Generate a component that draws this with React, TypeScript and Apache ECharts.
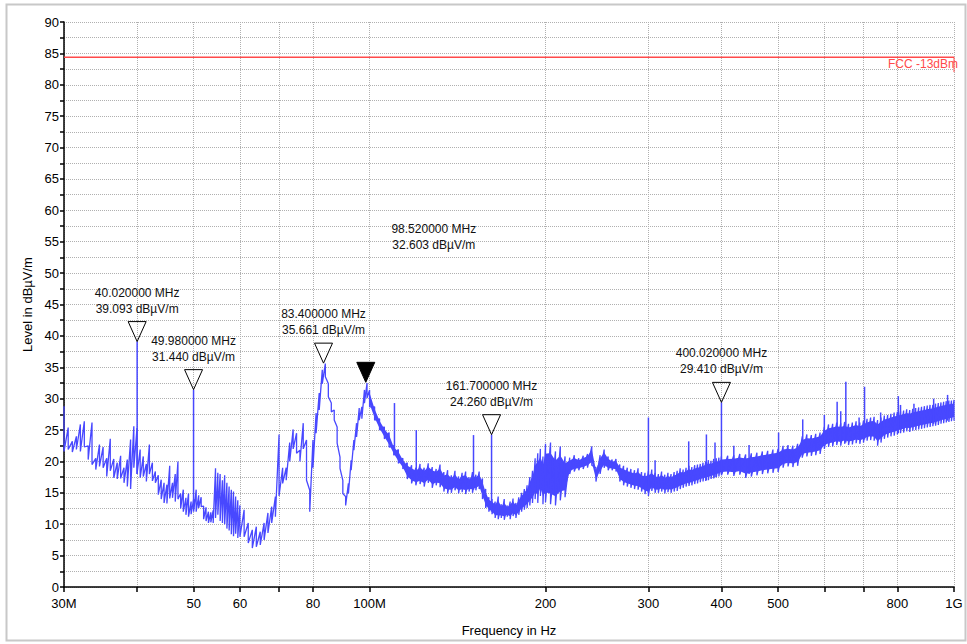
import { useEffect, useRef } from "react";
import * as echarts from "echarts";

// ---------- axis definitions ----------
const xTickMHz = [30, 40, 50, 60, 70, 80, 100, 200, 300, 400, 500, 600, 700, 800, 1000];
const xLabelMHz = [30, 50, 60, 80, 100, 200, 300, 400, 500, 800, 1000];
const xLabelText = ["30M", "50", "60", "80", "100M", "200", "300", "400", "500", "800", "1G"];
const yMin = 0;
const yMax = 90;
const yStep = 2.5;
const yLabelStep = 5;

// ---------- limit line ----------
const fccLimit = 84.4;
const fccLabel = "FCC -13dBm";

// ---------- markers [MHz, dBµV/m] ----------
const markers: [number, number][] = [
  [40.02, 39.093],
  [49.98, 31.44],
  [83.4, 35.661],
  [98.52, 32.603],
  [161.7, 24.26],
  [400.02, 29.41],
];
const activeMarkerMHz = 98.52;

// ---------- narrow spikes [MHz, peak, base] ----------
const spikes: [number, number, number][] = [
  [40.02, 39.093, 18.0], [49.98, 31.44, 12.5], [110.3, 29.3, 21.0], [120.2, 25.0, 16.5],
  [150.6, 24.2, 15.5], [161.7, 24.26, 12.0], [300, 27.0, 15.0], [308, 20.2, 15.5],
  [351.6, 23.2, 16.5], [377, 24.3, 17.0], [390, 23.0, 17.5], [400.02, 29.41, 18.0],
  [420, 22.5, 18.0], [446, 22.6, 18.0], [501, 24.6, 19.0], [551, 26.7, 21.0],
  [600, 27.4, 22.5], [631, 29.5, 23.0], [640, 28.0, 23.0], [653, 32.7, 23.0],
  [688, 27.0, 23.5], [703, 31.9, 23.5], [749, 27.8, 24.0], [803, 30.4, 24.5],
  [810, 29.0, 25.0], [854, 29.2, 25.5], [923, 30.0, 26.0], [975, 30.6, 26.5],
];

// ---------- measured trace: [MHz, upper, lower] read from the sweep ----------
const trace30to60: [number, number, number][] = [
  [30, 28.8, 21.6], [30.5, 25.4, 21.9], [31, 23.2, 21.5], [31.5, 24.0, 21.9], [32, 25.9, 21.6],
  [32.5, 26.4, 22.3], [33, 22.5, 20.3], [33.5, 26.2, 19.5], [34, 20.5, 18.7], [34.5, 22.7, 19.2],
  [35, 22.3, 19.0], [35.5, 20.5, 17.6], [36, 23.6, 18.5], [36.5, 20.4, 17.4], [37, 19.8, 17.2],
  [37.5, 20.9, 17.3], [38, 19.0, 16.6], [38.5, 20.3, 16.0], [39, 23.5, 15.6], [39.5, 25.6, 19.0],
  [40, 25.3, 18.0], [40.5, 21.9, 17.4], [41, 20.8, 17.6], [41.5, 19.6, 16.8], [42, 22.7, 18.0],
  [42.5, 19.8, 16.9], [43, 18.4, 16.6], [43.5, 17.8, 14.7], [44, 17.1, 14.0], [44.5, 16.6, 13.4],
  [45, 16.3, 13.3], [45.5, 19.3, 14.1], [46, 16.6, 14.2], [46.5, 18.0, 13.6], [47, 20.0, 14.0],
  [47.5, 14.9, 12.5], [48, 15.5, 12.0], [48.5, 14.2, 11.5], [49, 14.9, 11.2], [49.5, 13.6, 11.6],
  [50, 14.0, 12.0], [50.5, 15.5, 12.0], [51, 14.6, 12.6], [51.5, 14.3, 12.8], [52, 12.9, 10.8],
  [52.5, 12.7, 10.5], [53, 12.0, 10.2], [53.5, 11.9, 10.3], [54, 12.2, 10.2], [54.5, 18.9, 11.0],
  [55, 18.2, 11.5], [55.5, 18.0, 10.5], [56, 17.0, 10.2], [56.5, 17.8, 10.0], [57, 16.6, 9.3],
  [57.5, 16.0, 9.0], [58, 15.5, 8.4], [58.5, 15.2, 8.1], [59, 14.4, 8.5], [59.5, 13.8, 7.8],
];

const trace60to100: [number, number, number][] = [
  [60, 13.0, 8.0], [61, 12.3, 8.0], [62, 10.2, 7.0], [63, 9.1, 6.2], [64, 9.6, 6.4],
  [65, 8.8, 6.7], [66, 10.2, 7.5], [67, 11.8, 8.6], [68, 12.8, 10.2], [69, 14.4, 11.2],
  [70, 24.3, 14.5], [71, 19.0, 16.5], [72, 19.0, 17.0], [73, 23.0, 20.0], [74, 25.1, 22.0],
  [75, 24.5, 21.3], [76, 21.8, 20.0], [77, 26.1, 22.0], [78, 23.4, 17.0], [79, 15.4, 12.0],
  [80, 23.4, 19.0], [81, 27.7, 24.5], [82, 30.9, 28.2], [83, 34.6, 32.4], [84, 35.6, 33.5],
  [85, 32.4, 30.3], [86, 29.3, 27.9], [87, 28.2, 26.6], [88, 25.5, 22.9], [89, 20.7, 18.9],
  [90, 17.0, 14.9], [91, 14.4, 13.0], [92, 16.5, 14.9], [93, 20.2, 18.6], [94, 23.4, 21.8],
  [95, 26.1, 23.9], [96, 28.5, 26.6], [97, 28.7, 26.8], [98, 31.4, 29.3], [99, 32.5, 30.1],
];

const trace100to200: [number, number, number][] = [
  [100, 31.4, 28.7], [102, 28.7, 26.6], [104, 26.8, 25.0], [106, 25.5, 23.6], [108, 24.6, 22.3],
  [110, 22.5, 21.0], [112, 21.9, 19.7], [114, 20.5, 18.8], [116, 19.8, 17.2], [118, 19.4, 16.5],
  [120, 19.0, 16.2], [122, 19.6, 16.4], [124, 19.0, 16.0], [126, 19.7, 16.6], [128, 19.1, 15.8],
  [130, 18.8, 16.2], [132, 19.5, 15.9], [134, 18.3, 15.2], [136, 18.6, 14.9], [138, 17.8, 15.0],
  [140, 18.5, 15.4], [142, 17.6, 14.9], [144, 18.2, 15.1], [146, 18.4, 14.8], [148, 17.5, 15.2],
  [150, 18.3, 15.0], [152, 17.9, 15.4], [154, 18.4, 15.6], [156, 17.3, 14.0], [158, 15.6, 12.6],
  [160, 14.3, 12.0], [162, 14.0, 11.6], [164, 13.6, 11.0], [166, 14.4, 10.8], [168, 13.2, 11.0],
  [170, 14.0, 10.7], [172, 13.0, 11.2], [174, 13.6, 10.8], [176, 14.1, 11.3], [178, 13.4, 11.0],
  [180, 14.3, 11.5], [182, 15.0, 12.0], [184, 15.6, 12.3], [186, 16.2, 12.6], [188, 17.5, 13.0],
  [190, 18.5, 13.4], [192, 20.5, 14.0], [194, 21.3, 13.4], [196, 22.0, 14.5], [198, 20.8, 13.2],
];

const trace200to400: [number, number, number][] = [
  [200, 22.8, 13.5], [204, 23.0, 13.2], [208, 21.6, 13.0], [212, 22.4, 13.8], [216, 20.8, 14.3],
  [220, 20.6, 18.0], [224, 21.0, 18.4], [228, 20.5, 18.6], [232, 20.9, 18.8], [236, 21.2, 19.0],
  [240, 22.4, 19.4], [244, 19.0, 16.8], [248, 21.0, 18.0], [252, 21.9, 19.0], [256, 20.8, 18.6],
  [260, 20.3, 18.6], [264, 20.4, 18.4], [268, 19.5, 16.8], [272, 19.3, 16.2], [276, 19.0, 16.0],
  [280, 18.8, 15.8], [284, 18.6, 15.6], [288, 18.9, 15.5], [292, 18.3, 15.2], [296, 18.2, 14.8],
  [300, 18.5, 14.5], [304, 18.7, 15.3], [308, 18.2, 15.0], [312, 18.0, 15.0], [316, 18.4, 15.2],
  [320, 17.9, 14.9], [324, 18.2, 15.1], [328, 18.0, 15.0], [332, 18.3, 15.2], [336, 18.5, 15.3],
  [340, 18.9, 15.6], [344, 18.7, 15.8], [348, 19.0, 16.0], [352, 19.3, 16.1], [356, 19.1, 16.2],
  [360, 19.4, 16.4], [364, 19.5, 16.5], [368, 19.6, 16.7], [372, 19.8, 16.8], [376, 20.0, 16.9],
  [380, 20.2, 17.0], [384, 20.1, 17.2], [388, 20.4, 17.3], [392, 20.5, 17.5], [396, 20.6, 17.6],
];

const trace400to1000: [number, number, number][] = [
  [400, 20.8, 17.8], [410, 20.9, 17.9], [420, 21.0, 17.7], [430, 21.2, 17.9], [440, 21.1, 17.4],
  [450, 21.3, 17.6], [460, 21.4, 17.8], [470, 21.6, 18.0], [480, 21.7, 18.1], [490, 21.9, 18.2],
  [500, 22.0, 18.3], [510, 22.5, 19.0], [520, 22.6, 19.2], [530, 22.5, 19.1], [540, 22.8, 19.3],
  [550, 24.0, 20.6], [560, 24.3, 20.8], [570, 24.2, 20.9], [580, 24.4, 21.0], [590, 24.6, 21.2],
  [600, 25.5, 22.0], [610, 25.9, 22.3], [620, 26.0, 22.4], [630, 26.2, 22.6], [640, 26.1, 22.5],
  [650, 26.3, 22.8], [660, 26.0, 22.6], [670, 26.2, 22.7], [680, 26.4, 22.9], [690, 26.2, 22.8],
  [700, 26.5, 23.0], [710, 26.8, 23.3], [720, 27.0, 23.4], [730, 27.1, 23.3], [740, 26.6, 22.5],
  [750, 27.0, 23.0], [760, 27.3, 23.6], [770, 27.4, 23.8], [780, 27.6, 24.0], [790, 27.8, 24.1],
  [800, 27.9, 24.3], [810, 28.0, 24.5], [820, 28.1, 24.6], [830, 28.3, 24.8], [840, 28.2, 24.7],
  [850, 28.4, 24.9], [860, 28.5, 25.0], [870, 28.6, 25.1], [880, 28.7, 25.2], [890, 28.8, 25.3],
  [900, 28.9, 25.4], [910, 29.0, 25.5], [920, 29.0, 25.6], [930, 29.2, 25.7], [940, 29.3, 25.8],
  [950, 29.4, 26.0], [960, 29.5, 26.1], [970, 29.6, 26.2], [980, 29.7, 26.3], [990, 29.7, 26.4],
  [1000, 29.8, 26.5],
];

// ---------- styles ----------
const TRACE = "#4848ff";
const RED = "#ff4a4a";
const SANS = "'Liberation Sans', Arial, sans-serif";
const BAND_INSET = 0.17; // share of the swing left to the zig-zag on each side of the dense band

const toX = (mhz: number) => Math.log10(mhz);

export default function App() {
  const ref = useRef<HTMLDivElement>(null);

  useEffect(() => {
    if (!ref.current) return;
    const chart = echarts.init(ref.current, null, { renderer: "svg" });

    const allTrace = [...trace30to60, ...trace60to100, ...trace100to200, ...trace200to400, ...trace400to1000];
    const zigzag: number[][] = [];
    allTrace.forEach(([f, hi, lo]) => {
      zigzag.push([toX(f), hi]);
      zigzag.push([toX(f), lo]);
    });
    const bandSamples = [...trace100to200, ...trace200to400, ...trace400to1000];

    const option: any = {
      animation: false,
      backgroundColor: "#ffffff",
      grid: { left: 64, right: 13, top: 22, bottom: 57, outerBoundsMode: "none" },
      graphic: [
        {
          type: "rect",
          silent: true,
          z: -10,
          shape: { x: 6.5, y: 4.5, width: 959, height: 636 },
          style: { fill: "none", stroke: "#c8c8c8", lineWidth: 2 },
        },
      ],
      xAxis: {
        type: "value",
        min: toX(30),
        max: toX(1000),
        name: "Frequency in Hz",
        nameLocation: "middle",
        nameGap: 37,
        nameTextStyle: { fontSize: 13, fontFamily: SANS, color: "#000" },
        axisLine: { show: true, onZero: false, lineStyle: { color: "#000", width: 1.5 } },
        axisTick: {
          show: true,
          length: 5,
          customValues: xTickMHz.map(toX),
          lineStyle: { color: "#000", width: 1.5 },
        },
        axisLabel: {
          customValues: xLabelMHz.map(toX),
          formatter: (v: number) => {
            const i = xLabelMHz.findIndex((m) => Math.abs(toX(m) - v) < 1e-6);
            return i >= 0 ? xLabelText[i] : "";
          },
          margin: 10,
          fontSize: 13,
          fontFamily: SANS,
          color: "#000",
        },
        splitLine: { show: true, lineStyle: { type: "dotted", color: "#b0b0b0", width: 1 } },
      },
      yAxis: {
        type: "value",
        min: yMin,
        max: yMax,
        interval: yStep,
        name: "Level in dBµV/m",
        nameLocation: "middle",
        nameGap: 22,
        nameTextStyle: { fontSize: 13, fontFamily: SANS, color: "#000" },
        axisLine: { show: true, onZero: false, lineStyle: { color: "#000", width: 1.5 } },
        axisTick: { show: true, length: 4, lineStyle: { color: "#000", width: 1.5 } },
        axisLabel: {
          formatter: (v: number) => (Math.abs(v / yLabelStep - Math.round(v / yLabelStep)) < 1e-6 ? String(v) : ""),
          margin: 5,
          fontSize: 13,
          fontFamily: SANS,
          color: "#000",
        },
        splitLine: { show: true, lineStyle: { type: "dotted", color: "#b0b0b0", width: 1 } },
      },
      series: [
        {
          type: "custom",
          name: "band",
          coordinateSystem: "cartesian2d",
          silent: true,
          z: 2,
          data: [[toX(bandSamples[0][0]), bandSamples[0][1]]],
          encode: { x: 0, y: 1 },
          renderItem: (_p: any, api: any) => {
            const pts: number[][] = [];
            bandSamples.forEach(([f, hi, lo]) => pts.push(api.coord([toX(f), hi - BAND_INSET * (hi - lo)])));
            for (let i = bandSamples.length - 1; i >= 0; i--) {
              const [f, hi, lo] = bandSamples[i];
              pts.push(api.coord([toX(f), lo + BAND_INSET * (hi - lo)]));
            }
            return { type: "polygon", shape: { points: pts }, style: { fill: TRACE } };
          },
        },
        {
          type: "line",
          name: "trace",
          data: zigzag,
          showSymbol: false,
          symbol: "none",
          silent: true,
          z: 3,
          lineStyle: { color: TRACE, width: 1.3 },
        },
        {
          type: "custom",
          name: "spikes",
          coordinateSystem: "cartesian2d",
          silent: true,
          z: 4,
          data: spikes.map(([f, peak, base]) => [toX(f), peak, base]),
          encode: { x: 0, y: 1 },
          renderItem: (_p: any, api: any) => {
            const x = api.value(0);
            const a = api.coord([x, api.value(1)]);
            const b = api.coord([x, api.value(2)]);
            return {
              type: "line",
              shape: { x1: a[0], y1: a[1], x2: b[0], y2: b[1] },
              style: { stroke: TRACE, lineWidth: 1.5 },
            };
          },
        },
        {
          type: "custom",
          name: "limit",
          coordinateSystem: "cartesian2d",
          silent: true,
          clip: false,
          z: 5,
          data: [[toX(30), fccLimit, toX(1000)]],
          encode: { x: 0, y: 1 },
          renderItem: (_p: any, api: any) => {
            const p0 = api.coord([api.value(0), api.value(1)]);
            const p1 = api.coord([api.value(2), api.value(1)]);
            return {
              type: "group",
              children: [
                { type: "line", shape: { x1: p0[0], y1: p0[1], x2: p1[0], y2: p1[1] }, style: { stroke: RED, lineWidth: 1.5 } },
                { type: "line", shape: { x1: p1[0], y1: p1[1], x2: p1[0], y2: p1[1] + 15 }, style: { stroke: RED, lineWidth: 1 } },
                {
                  type: "text",
                  x: p1[0] + 4,
                  y: p1[1] + 1,
                  style: { text: fccLabel, fill: RED, fontSize: 12, fontFamily: SANS, align: "right", verticalAlign: "top" },
                },
              ],
            };
          },
        },
        {
          type: "custom",
          name: "markers",
          coordinateSystem: "cartesian2d",
          silent: true,
          clip: false,
          z: 6,
          data: markers.map(([f, v]) => [toX(f), v, f]),
          encode: { x: 0, y: 1 },
          renderItem: (_p: any, api: any) => {
            const f = api.value(2);
            const v = api.value(1);
            const [px, py] = api.coord([api.value(0), v]);
            const active = Math.abs(f - activeMarkerMHz) < 1e-6;
            const text = `${f.toFixed(6)} MHz\n${v.toFixed(3)} dBµV/m`;
            return {
              type: "group",
              children: [
                {
                  type: "polygon",
                  shape: { points: [[px - 9, py - 20], [px + 9, py - 20], [px, py]] },
                  style: { fill: active ? "#000" : "rgba(255,255,255,0)", stroke: "#000", lineWidth: 1 },
                },
                {
                  type: "text",
                  x: active ? px + 68 : px,
                  y: active ? py - 129 : py - 25,
                  style: {
                    text,
                    fill: "#111",
                    fontSize: 12,
                    fontFamily: SANS,
                    align: "center",
                    verticalAlign: "bottom",
                    lineHeight: 16,
                  },
                },
              ],
            };
          },
        },
      ],
    };

    chart.setOption(option);
    return () => chart.dispose();
  }, []);

  return (
    <div
      ref={ref}
      style={{ position: "fixed", left: 0, top: 0, width: 967, height: 644, background: "#fff" }}
    />
  );
}
